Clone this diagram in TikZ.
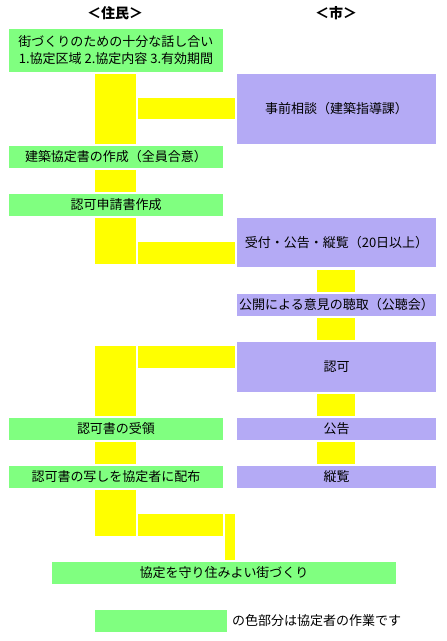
\documentclass[tikz,border=0pt]{standalone}
\usepackage{fontspec}
\setmainfont{Noto Sans CJK JP}
\definecolor{gfill}{RGB}{128,255,128}
\definecolor{pfill}{RGB}{180,170,245}
\definecolor{yfill}{RGB}{255,255,0}
\begin{document}
\begin{tikzpicture}[x=1pt,y=-1pt,
  box/.style={anchor=north west,inner sep=0pt,outer sep=0pt,font=\fontsize{13}{17}\selectfont,align=center,text=black},
  gbox/.style={box,fill=gfill},
  pbox/.style={box,fill=pfill},
  ybar/.style={anchor=north west,inner sep=0pt,outer sep=0pt,fill=yfill},
  head/.style={font=\fontsize{14}{16}\selectfont\bfseries}]
\useasboundingbox (0,0) rectangle (447,641);
\fill[white] (0,0) rectangle (447,641);
% headers
\node[head] (hres) at (115,13) {＜住民＞};
\node[head] (hcity) at (336,13) {＜市＞};
% green (residents)
\node[gbox,minimum width=214pt,minimum height=43pt] (g1) at (9,29) {街づくりのための十分な話し合い\\1.協定区域 2.協定内容 3.有効期間};
\node[gbox,minimum width=214pt,minimum height=22pt] (g2) at (9,146) {建築協定書の作成（全員合意）};
\node[gbox,minimum width=214pt,minimum height=22pt] (g3) at (9,194) {認可申請書作成};
\node[gbox,minimum width=214pt,minimum height=22pt] (g4) at (9,418) {認可書の受領};
\node[gbox,minimum width=214pt,minimum height=22pt] (g5) at (9,466) {認可書の写しを協定者に配布};
\node[gbox,minimum width=344pt,minimum height=22pt] (g6) at (52,562) {協定を守り住みよい街づくり};
% purple (city)
\node[pbox,minimum width=199pt,minimum height=70pt] (p1) at (237,74) {事前相談（建築指導課）};
\node[pbox,minimum width=199pt,minimum height=49pt] (p2) at (237,218) {受付・公告・縦覧（20日以上）};
\node[pbox,minimum width=199pt,minimum height=22pt] (p3) at (237,294) {公開による意見の聴取（公聴会）};
\node[pbox,minimum width=199pt,minimum height=50pt] (p4) at (237,342) {認可};
\node[pbox,minimum width=199pt,minimum height=22pt] (p5) at (237,418) {公告};
\node[pbox,minimum width=199pt,minimum height=22pt] (p6) at (237,466) {縦覧};
% yellow connectors
\node[ybar,minimum width=41pt,minimum height=70pt] (y1v) at (95,74) {};
\node[ybar,minimum width=97pt,minimum height=21pt] (y1h) at (138,98) {};
\node[ybar,minimum width=41pt,minimum height=22pt] (y2) at (95,170) {};
\node[ybar,minimum width=41pt,minimum height=46pt] (y3v) at (95,218) {};
\node[ybar,minimum width=97pt,minimum height=22pt] (y3h) at (138,242) {};
\node[ybar,minimum width=38pt,minimum height=22pt] (y4) at (317,270) {};
\node[ybar,minimum width=38pt,minimum height=22pt] (y5) at (317,318) {};
\node[ybar,minimum width=41pt,minimum height=70pt] (y6v) at (95,346) {};
\node[ybar,minimum width=97pt,minimum height=22pt] (y6h) at (138,346) {};
\node[ybar,minimum width=38pt,minimum height=22pt] (y7) at (317,394) {};
\node[ybar,minimum width=41pt,minimum height=22pt] (y8l) at (95,442) {};
\node[ybar,minimum width=38pt,minimum height=22pt] (y8r) at (317,442) {};
\node[ybar,minimum width=41pt,minimum height=46pt] (y9v) at (95,490) {};
\node[ybar,minimum width=85pt,minimum height=22pt] (y9h) at (138,514) {};
\node[ybar,minimum width=10pt,minimum height=46pt] (y9t) at (225,514) {};
% legend
\node[gbox,minimum width=132pt,minimum height=22pt] (leg) at (95,610) {};
\node[anchor=west,inner sep=0pt,font=\fontsize{13}{17}\selectfont] (legtxt) at (232,621) {の色部分は協定者の作業です};
\end{tikzpicture}
\end{document}
